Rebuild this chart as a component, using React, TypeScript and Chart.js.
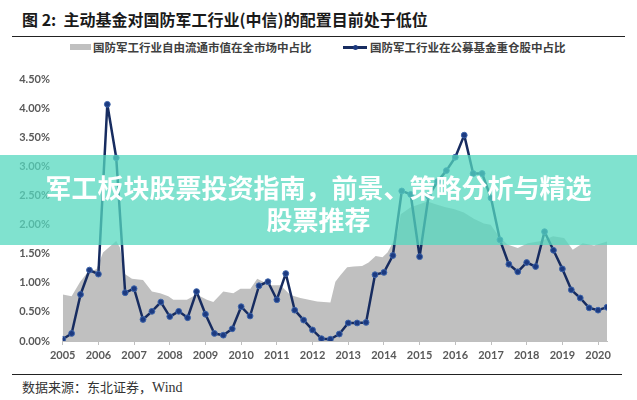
import React, { useEffect, useRef } from "react";
import { Chart, registerables } from "chart.js";

Chart.register(...registerables);

// 国防军工行业在公募基金重仓股中占比 (quarterly, 2005Q1 – 2020Q2), %
const fundStartYear = 2005;
const fundShare = [
  0.03, 0.13, 0.8, 1.22,
  1.15, 4.07, 3.15, 0.83,
  0.9, 0.37, 0.51, 0.67,
  0.42, 0.51, 0.4, 0.85,
  0.46, 0.13, 0.1, 0.21,
  0.59, 0.43, 0.95, 1.02,
  0.71, 1.16, 0.53, 0.36,
  0.19, 0.04, 0.03, 0.12,
  0.31, 0.31, 0.32, 1.14,
  1.18, 1.47, 2.58, 2.52,
  1.45, 2.49, 2.74, 2.93,
  3.16, 3.54, 2.88, 2.88,
  2.46, 1.74, 1.32, 1.19,
  1.35, 1.28, 1.88, 1.56,
  1.24, 0.88, 0.74, 0.57,
  0.53, 0.58,
];

// 国防军工行业自由流通市值在全市场中占比, %
const marketDates = [
  2005.0, 2005.25, 2005.49, 2005.67, 2005.95, 2006.13, 2006.33, 2006.5, 2006.61, 2006.72,
  2006.94, 2007.25, 2007.5, 2007.73, 2007.96, 2008.1, 2008.48, 2008.66, 2008.85, 2009.04,
  2009.22, 2009.5, 2009.78, 2009.98, 2010.26, 2010.45, 2010.62, 2010.82, 2011.1, 2011.38,
  2011.66, 2012.13, 2012.5, 2012.64, 2012.78, 2012.97, 2013.15, 2013.39, 2013.57, 2013.77,
  2013.96, 2014.1, 2014.24, 2014.38, 2014.47, 2014.75, 2015.22, 2015.45, 2015.73, 2015.96,
  2016.24, 2016.52, 2016.8, 2016.99, 2017.22, 2017.46, 2017.75, 2018.03, 2018.4, 2018.74,
  2019.05, 2019.29, 2019.57, 2019.89, 2020.25,
];
const marketShare = [
  0.8, 0.77, 1.02, 1.16, 1.24, 1.52, 1.63, 1.72, 1.6, 1.16,
  1.07, 1.05, 0.85, 0.82, 0.77, 0.71, 0.71, 0.77, 0.77, 0.71,
  0.67, 0.85, 0.82, 0.9, 0.9, 1.07, 1.02, 0.96, 0.96, 0.79,
  0.74, 0.68, 0.66, 1.02, 1.13, 1.27, 1.28, 1.29, 1.35, 1.46,
  1.44, 1.52, 1.68, 1.85, 2.18, 2.3, 2.4, 2.35, 2.3, 2.27,
  2.21, 2.1, 2.02, 2.0, 1.8, 1.66, 1.6, 1.68, 1.72, 1.8,
  1.77, 1.57, 1.68, 1.64, 1.71,
];

const xMin = 2005;
const xMax = 2020.25;
const yMax = 4.5;

const seriesNames = ["国防军工行业自由流通市值在全市场中占比", "国防军工行业在公募基金重仓股中占比"];
const titleText = "图 2:  主动基金对国防军工行业(中信)的配置目前处于低位";
const sourceText = "数据来源：东北证券，";
const bannerLine1 = "军工板块股票投资指南，前景、策略分析与精选";
const bannerLine2 = "股票推荐";

const NAVY = "#172c60";
const GRAY_AREA = "#c0c0c0";
const TICK_COLOR = "#595959";

export default function App() {
  const canvasRef = useRef<HTMLCanvasElement | null>(null);

  useEffect(() => {
    const canvas = canvasRef.current;
    if (!canvas) return;
    const lineData = fundShare.map((v, i) => ({ x: fundStartYear + i / 4, y: v }));
    const areaData = marketShare.map((v, i) => ({ x: marketDates[i], y: v }));
    const chart = new Chart(canvas, {
      type: "line",
      data: {
        datasets: [
          {
            label: seriesNames[1],
            data: lineData,
            borderColor: NAVY,
            borderWidth: 2.5,
            borderJoinStyle: "round",
            borderCapStyle: "round",
            pointRadius: 2.9,
            pointBackgroundColor: "#1c3a80",
            pointBorderColor: "#3d64aa",
            pointBorderWidth: 1,
            fill: false,
            tension: 0,
            order: 0,
          },
          {
            label: seriesNames[0],
            data: areaData,
            borderWidth: 0,
            borderColor: GRAY_AREA,
            backgroundColor: GRAY_AREA,
            pointRadius: 0,
            fill: "origin",
            tension: 0,
            order: 1,
          },
        ],
      },
      options: {
        responsive: false,
        animation: false,
        devicePixelRatio: 1,
        layout: { padding: { top: 11, left: 0, right: 30, bottom: 0 } },
        plugins: { legend: { display: false }, tooltip: { enabled: false } },
        scales: {
          x: {
            type: "linear",
            min: xMin,
            max: xMax,
            afterFit: (s: any) => {
              s.height = 29;
            },
            ticks: {
              stepSize: 1,
              includeBounds: false,
              autoSkip: false,
              maxRotation: 0,
              padding: 4,
              color: TICK_COLOR,
              font: { family: "Lato", size: 11, weight: "bold" },
              callback: (v: any) => String(v),
            },
            grid: {
              drawOnChartArea: false,
              drawTicks: true,
              tickLength: 4,
              color: "#bfbfbf",
            },
            border: { display: true, color: "#bfbfbf", width: 1 },
          },
          y: {
            min: 0,
            max: yMax,
            afterFit: (s: any) => {
              s.width = 62.7;
            },
            ticks: {
              stepSize: 0.5,
              padding: 12.7,
              color: TICK_COLOR,
              font: { family: "Lato", size: 11, weight: "bold" },
              callback: (v: any) => Number(v).toFixed(2) + "%",
            },
            grid: { display: false, drawTicks: false },
            border: { display: false },
          },
        },
      },
    });
    return () => chart.destroy();
  }, []);

  return (
    <div
      style={{
        position: "absolute",
        left: 0,
        top: 0,
        width: 637,
        height: 400,
        background: "#ffffff",
        overflow: "hidden",
        fontFamily: "'Noto Sans CJK SC', sans-serif",
      }}
    >
      <div
        style={{
          position: "absolute",
          left: 22,
          top: 10,
          fontSize: 16,
          lineHeight: "18px",
          fontWeight: 700,
          color: "#1a1a1a",
          whiteSpace: "pre",
        }}
      >
        {titleText}
      </div>
      <div style={{ position: "absolute", left: 12, top: 36, width: 613, height: 0, borderTop: "1.5px solid #222" }} />
      {/* legend */}
      <div style={{ position: "absolute", left: 70, top: 44, width: 21, height: 6, background: GRAY_AREA }} />
      <div
        style={{
          position: "absolute",
          left: 93,
          top: 41,
          fontSize: 11.5,
          lineHeight: "13px",
          fontWeight: 700,
          color: "#404040",
          whiteSpace: "nowrap",
        }}
      >
        {seriesNames[0]}
      </div>
      <div style={{ position: "absolute", left: 343, top: 46, width: 24, height: 2.5, background: NAVY }} />
      <div
        style={{
          position: "absolute",
          left: 352.5,
          top: 44.5,
          width: 5,
          height: 5,
          borderRadius: "50%",
          background: "#1c3a80",
        }}
      />
      <div
        style={{
          position: "absolute",
          left: 370,
          top: 41,
          fontSize: 11.5,
          lineHeight: "13px",
          fontWeight: 700,
          color: "#404040",
          whiteSpace: "nowrap",
        }}
      >
        {seriesNames[1]}
      </div>
      <canvas
        ref={canvasRef}
        width={637}
        height={310}
        style={{ position: "absolute", left: 0, top: 60, width: 637, height: 310 }}
      />
      <div style={{ position: "absolute", left: 12, top: 374, width: 610, height: 0, borderTop: "1.5px solid #222" }} />
      <div
        style={{
          position: "absolute",
          left: 22,
          top: 379,
          fontSize: 13,
          lineHeight: "16px",
          color: "#333",
          whiteSpace: "nowrap",
        }}
      >
        {sourceText}
        <span style={{ fontFamily: "'Liberation Serif', serif", fontSize: 14 }}>Wind</span>
      </div>
      {/* banner overlay */}
      <div
        style={{
          position: "absolute",
          left: 0,
          top: 155,
          width: 637,
          height: 90,
          background: "rgba(86, 216, 191, 0.75)",
          color: "#ffffff",
          textAlign: "center",
          fontSize: 26,
          lineHeight: "32px",
          fontWeight: 700,
          paddingTop: 16,
          boxSizing: "border-box",
          whiteSpace: "nowrap",
        }}
      >
        {bannerLine1}
        <br />
        {bannerLine2}
      </div>
    </div>
  );
}
